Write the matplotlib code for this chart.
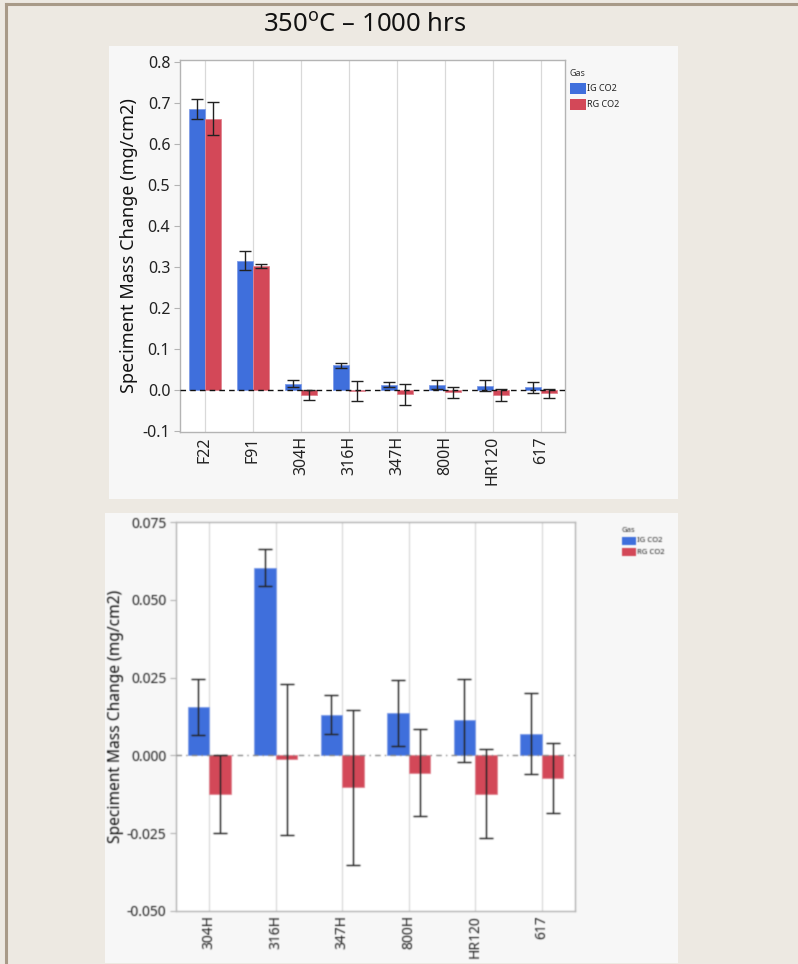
import numpy as np
import matplotlib
matplotlib.use("Agg")
import matplotlib.pyplot as plt
from matplotlib.patches import Rectangle

plt.rcParams["font.family"] = ["Noto Sans", "DejaVu Sans"]
plt.rcParams["mathtext.fontset"] = "custom"
plt.rcParams["mathtext.rm"] = "Noto Sans"

# ---- data -------------------------------------------------------------
alloys_all = ["F22", "F91", "304H", "316H", "347H", "800H", "HR120", "617"]
ig_mean = [0.686, 0.316, 0.0156, 0.0603, 0.0131, 0.0136, 0.0113, 0.0069]
ig_err = [0.025, 0.023, 0.0089, 0.0060, 0.0062, 0.0105, 0.0134, 0.0130]
rg_mean = [0.662, 0.302, -0.0125, -0.0012, -0.0102, -0.0055, -0.0123, -0.0072]
rg_err = [0.041, 0.005, 0.0125, 0.0243, 0.0249, 0.0139, 0.0142, 0.0112]

series_names = ["IG CO2", "RG CO2"]
title_text = r"350$^{\mathrm{o}}$C – 1000 hrs"
ylabel_text = "Speciment Mass Change (mg/cm2)"
top_yticks = [-0.1, 0.0, 0.1, 0.2, 0.3, 0.4, 0.5, 0.6, 0.7, 0.8]
zoom_yticks = [-0.050, -0.025, 0.000, 0.025, 0.050, 0.075]

# ---- style ------------------------------------------------------------
W, H = 798, 964
BG = "#ede9e2"
PANEL = "#f7f7f7"
BLUE = "#3f6fdc"
RED = "#d34858"
SPINE = "#b4b4b4"
GRID = "#d9d9d9"
colors = [BLUE, RED]

fig = plt.figure(figsize=(W / 100, H / 100), dpi=100)
fig.patch.set_facecolor(BG)


def px_rect(x0, y0, x1, y1):
    """Figure-fraction rectangle from pixel corners (top-left origin)."""
    return [x0 / W, 1 - y1 / H, (x1 - x0) / W, (y1 - y0) / H]


def fig_patch(x0, y0, x1, y1, zorder=5, **kw):
    l, b, w, h = px_rect(x0, y0, x1, y1)
    fig.add_artist(Rectangle((l, b), w, h, transform=fig.transFigure, zorder=zorder, **kw))


# slide border
fig.add_artist(plt.Line2D([6 / W, 6 / W], [0, 1 - 3.5 / H], transform=fig.transFigure,
                          color="#a89a88", lw=2.2, zorder=-5))
fig.add_artist(plt.Line2D([6 / W, 1], [1 - 3.5 / H, 1 - 3.5 / H], transform=fig.transFigure,
                          color="#a89a88", lw=2.2, zorder=-5))

# panel backgrounds (behind the axes)
fig_patch(109, 46, 678, 499, zorder=-10, facecolor=PANEL, edgecolor="none")
fig_patch(105, 513, 678, 963, zorder=-10, facecolor=PANEL, edgecolor="none")

fig.text(365 / W, 1 - 25 / H, title_text, ha="center", va="center",
         fontsize=18.5, color="#111111")


def grouped_bars(ax, cats, ig_m, ig_e, rg_m, rg_e, width, capsize, zero_style):
    x = np.arange(len(cats))
    for xi in x:
        ax.axvline(xi, color=GRID, lw=0.9, zorder=0)
    ax.bar(x - width / 2, ig_m, width, color=BLUE, edgecolor="#7f9ce8",
           linewidth=0.6, zorder=2, label=series_names[0])
    ax.bar(x + width / 2, rg_m, width, color=RED, edgecolor="#e08590",
           linewidth=0.6, zorder=2, label=series_names[1])
    ax.errorbar(x - width / 2, ig_m, yerr=ig_e, fmt="none", ecolor="#222222",
                elinewidth=1.0, capsize=capsize, capthick=1.0, zorder=4)
    ax.errorbar(x + width / 2, rg_m, yerr=rg_e, fmt="none", ecolor="#222222",
                elinewidth=1.0, capsize=capsize, capthick=1.0, zorder=4)
    ax.axhline(0, zorder=3, **zero_style)
    ax.set_xticks(x)
    ax.set_xticklabels(cats, rotation=90)
    ax.tick_params(axis="x", length=0, pad=3)
    ax.tick_params(axis="y", length=4, color=SPINE, direction="out", pad=3)
    for s in ax.spines.values():
        s.set_color(SPINE)
        s.set_linewidth(1.0)
    ax.set_facecolor("white")


def legend_box(x, y, size, fs, row_h):
    fig.text(x / W, 1 - y / H, "Gas", fontsize=fs, ha="left", va="center", color="#333333")
    for i, (name, c) in enumerate(zip(series_names, colors)):
        yy = y + (i + 1) * row_h
        fig_patch(x, yy - size[1] / 2, x + size[0], yy + size[1] / 2, facecolor=c, edgecolor="none")
        fig.text((x + size[0] + 1) / W, 1 - yy / H, name, fontsize=fs, ha="left",
                 va="center", color="#222222")


# ---- top chart: all alloys ------------------------------------------
ax1 = fig.add_axes(px_rect(180, 60, 565, 432))
grouped_bars(ax1, alloys_all, ig_mean, ig_err, rg_mean, rg_err, 0.33, 4.3,
             dict(color="#111111", lw=1.0, ls=(0, (4, 3))))
ax1.set_xlim(-0.52, 7.5)
ax1.set_ylim(-0.102, 0.805)
ax1.set_yticks(top_yticks)
ax1.set_yticklabels([f"{v:.1f}" for v in top_yticks])
ax1.tick_params(labelsize=11.5, labelcolor="#222222")
ax1.set_ylabel(ylabel_text, fontsize=13, color="#111111", labelpad=3)
legend_box(570, 73, (16, 11), 6.5, 15.5)

# ---- bottom chart: austenitic / nickel alloys -------------------------
sub = slice(2, None)
ax2 = fig.add_axes(px_rect(176, 522, 575, 911))
grouped_bars(ax2, alloys_all[sub], ig_mean[sub], ig_err[sub], rg_mean[sub], rg_err[sub],
             0.325, 4.7, dict(color="#8a8a8a", lw=1.0, ls=(0, (4, 3, 1, 3))))
ax2.set_xlim(-0.5, 5.5)
ax2.set_ylim(-0.05, 0.075)
ax2.set_yticks(zoom_yticks)
ax2.set_yticklabels([f"{v:.3f}" for v in zoom_yticks])
ax2.tick_params(labelsize=10, labelcolor="#222222")
ax2.set_ylabel(ylabel_text, fontsize=11.2, color="#111111", labelpad=2)
legend_box(622, 530, (14, 8), 5.5, 11)

fig.savefig("out.png", dpi=100, facecolor=BG)

# the lower panel is a soft, upscaled capture: give it a light blur
img = plt.imread("out.png")
y0, y1, x0, x1 = 513, 963, 105, 678
region = img[y0:y1, x0:x1, :3].copy()
k = np.array([0.2, 0.6, 0.2])
for axis in (0, 1):
    pad = [(0, 0)] * 3
    pad[axis] = (1, 1)
    p = np.pad(region, pad, mode="edge")
    if axis == 0:
        region = k[0] * p[:-2] + k[1] * p[1:-1] + k[2] * p[2:]
    else:
        region = k[0] * p[:, :-2] + k[1] * p[:, 1:-1] + k[2] * p[:, 2:]
img[y0:y1, x0:x1, :3] = region
plt.imsave("out.png", img)
